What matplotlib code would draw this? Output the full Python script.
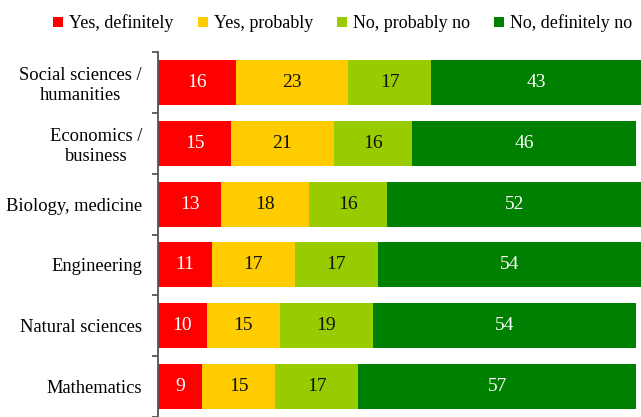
import matplotlib
matplotlib.use("Agg")
import matplotlib.pyplot as plt
from matplotlib.patches import Patch
import numpy as np

categories = ["Social sciences /\nhumanities", "Economics /\nbusiness", "Biology, medicine",
              "Engineering", "Natural sciences", "Mathematics"]
series_names = ["Yes, definitely", "Yes, probably", "No, probably no", "No, definitely no"]
yes_definitely = [16, 15, 13, 11, 10, 9]
yes_probably = [23, 21, 18, 17, 15, 15]
no_probably = [17, 16, 16, 17, 19, 17]
no_definitely = [43, 46, 52, 54, 54, 57]
series_values = [yes_definitely, yes_probably, no_probably, no_definitely]
colors = ["#FF0000", "#FFCC00", "#99CC00", "#008000"]
text_colors = ["white", "#111111", "#111111", "white"]

plt.rcParams['font.family'] = ['Liberation Serif', 'DejaVu Serif']

fig = plt.figure(figsize=(6.41, 4.17), dpi=100)
ax = fig.add_axes([158/641, 0, 1 - 158/641, (417-52)/417])

y = np.arange(len(categories))
left = np.zeros(len(categories))
for vals, col, tc, name in zip(series_values, colors, text_colors, series_names):
    vals = np.array(vals, dtype=float)
    ax.barh(y, vals, left=left, height=0.74, color=col, label=name)
    for yi, (l, v) in enumerate(zip(left, vals)):
        ax.text(l + v/2, yi, f"{int(v)}", ha="center", va="center", color=tc, fontsize=14)
    left += vals

ax.set_xlim(0, 99)
ax.set_ylim(-0.5 + 365/62, -0.5)
ax.set_yticks(y)
ax.set_yticklabels(categories, fontsize=13.3, linespacing=1.2, multialignment='center')
ax.set_yticks(np.arange(-0.5, len(categories), 1.0), minor=True)
ax.tick_params(axis='y', which='major', length=0, pad=11.5)
ax.tick_params(axis='y', which='minor', length=4, color='#555555', width=1.3)
ax.set_xticks([])
for s in ["top", "right", "bottom"]:
    ax.spines[s].set_visible(False)
ax.spines["left"].set_color("#555555")
ax.spines["left"].set_linewidth(1.3)

handles = [Patch(facecolor=c, edgecolor='none', label=n) for c, n in zip(colors, series_names)]
fig.legend(handles=handles, loc="center left", bbox_to_anchor=(53/641, 1 - 23.5/417), ncol=4,
           frameon=False, fontsize=13, handlelength=0.55, handleheight=0.55,
           handletextpad=0.33, columnspacing=1.35, borderaxespad=0, borderpad=0)

fig.savefig("out.png", dpi=100)
